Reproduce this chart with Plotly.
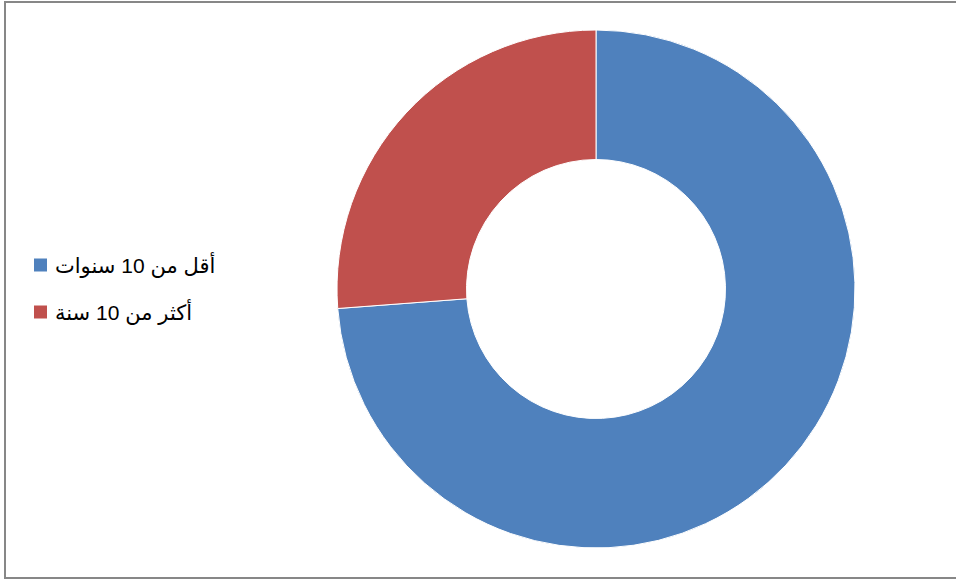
import plotly.graph_objects as go

labels = ["أقل من 10 سنوات", "أكثر من 10 سنة"]
values = [73.8, 26.2]
colors = ["#4F81BD", "#C0504D"]

W, H = 956, 579

fig = go.Figure()
fig.add_trace(go.Pie(
    labels=labels,
    values=values,
    hole=0.5,
    sort=False,
    direction="clockwise",
    rotation=0,
    marker=dict(colors=colors, line=dict(color="white", width=1)),
    textinfo="none",
    hoverinfo="label+value",
    showlegend=False,
    domain=dict(x=[337 / W, 855 / W], y=[(H - 548) / H, (H - 30) / H]),
))

# legend built from the data lists
legend_y = [265, 312]
shapes = [dict(type="rect", xref="paper", yref="paper",
               x0=5 / W, x1=957 / W, y0=(H - 578) / H, y1=(H - 2) / H,
               line=dict(color="#878787", width=2), fillcolor="rgba(0,0,0,0)")]
annotations = []
for lab, col, yy in zip(labels, colors, legend_y):
    shapes.append(dict(type="rect", xref="paper", yref="paper",
                       x0=34 / W, x1=47 / W, y0=(H - yy - 6.5) / H, y1=(H - yy + 6.5) / H,
                       line=dict(width=0), fillcolor=col))
    annotations.append(dict(xref="paper", yref="paper", x=53 / W, y=(H - yy) / H,
                            xanchor="left", yanchor="middle", showarrow=False,
                            text=lab, font=dict(family="Arial, Liberation Sans, DejaVu Sans", size=21, color="#000000")))

fig.update_layout(
    width=W, height=H,
    margin=dict(l=0, r=0, t=0, b=0),
    paper_bgcolor="white",
    plot_bgcolor="white",
    shapes=shapes,
    annotations=annotations,
)

fig.write_html("out.html")
